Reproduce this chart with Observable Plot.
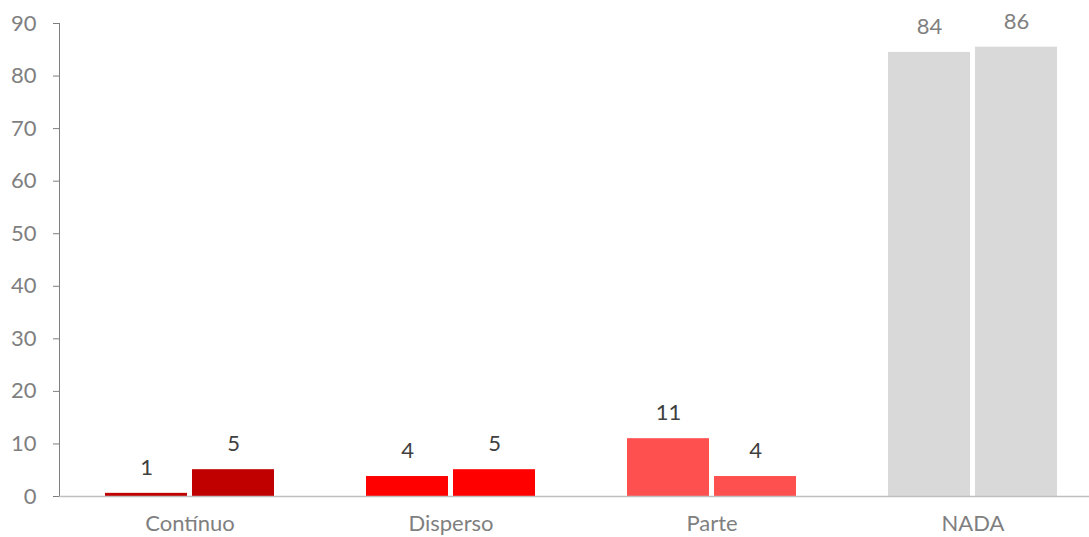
<!DOCTYPE html>
<html>
<head>
<meta charset="utf-8">
<script src="https://cdn.jsdelivr.net/npm/d3@7"></script>
<script src="https://cdn.jsdelivr.net/npm/@observablehq/plot@0.6"></script>
<style>
  html, body { margin: 0; padding: 0; background: #fff; overflow: hidden; }
  #chart svg { display: block; }
</style>
</head>
<body>
<div id="chart"></div>
<script>
const categories = ["Contínuo", "Disperso", "Parte", "NADA"];
const seriesKeys = ["A", "B"];
const seriesA = [0.6, 3.8, 11.0, 84.5];
const seriesB = [5.1, 5.1, 3.8, 85.5];
const labelsA = ["1", "4", "11", "84"];
const labelsB = ["5", "5", "4", "86"];
const yTicks = [0, 10, 20, 30, 40, 50, 60, 70, 80, 90];

const catColors = ["#C00000", "#FF0000", "#FF5050", "#D9D9D9"];
const labelColors = ["#404040", "#404040", "#404040", "#7F7F7F"];

const rows = [];
categories.forEach((c, i) => {
  rows.push({cat: c, s: seriesKeys[0], v: seriesA[i], t: labelsA[i], fill: catColors[i], lc: labelColors[i]});
  rows.push({cat: c, s: seriesKeys[1], v: seriesB[i], t: labelsB[i], fill: catColors[i], lc: labelColors[i]});
});

const chart = Plot.plot({
  width: 1089,
  height: 537,
  marginLeft: 58,
  marginRight: 0,
  marginTop: 23,
  marginBottom: 41,
  style: {fontFamily: "Lato, sans-serif", fontSize: "22px", color: "#7F7F7F", background: "#fff", overflow: "hidden"},
  fx: {domain: categories, range: [58.5, 1104], padding: 0, label: null, tickSize: 0, tickPadding: 19, axis: "bottom"},
  x: {domain: seriesKeys, paddingInner: 0.057, paddingOuter: 0.513, axis: null},
  y: {domain: [0, 90], ticks: yTicks, tickSize: 6, tickPadding: 17, label: null, line: true},
  marks: [
    Plot.barY(rows, {fx: "cat", x: "s", y: "v", fill: d => d.fill}),
    Plot.ruleY([0], {stroke: "#BFBFBF", strokeWidth: 1.3}),
    Plot.text(rows, {fx: "cat", x: "s", y: "v", text: "t", dy: -25.5, fill: d => d.lc, fontSize: 22})
  ]
});
document.getElementById("chart").appendChild(chart);
</script>
</body>
</html>
